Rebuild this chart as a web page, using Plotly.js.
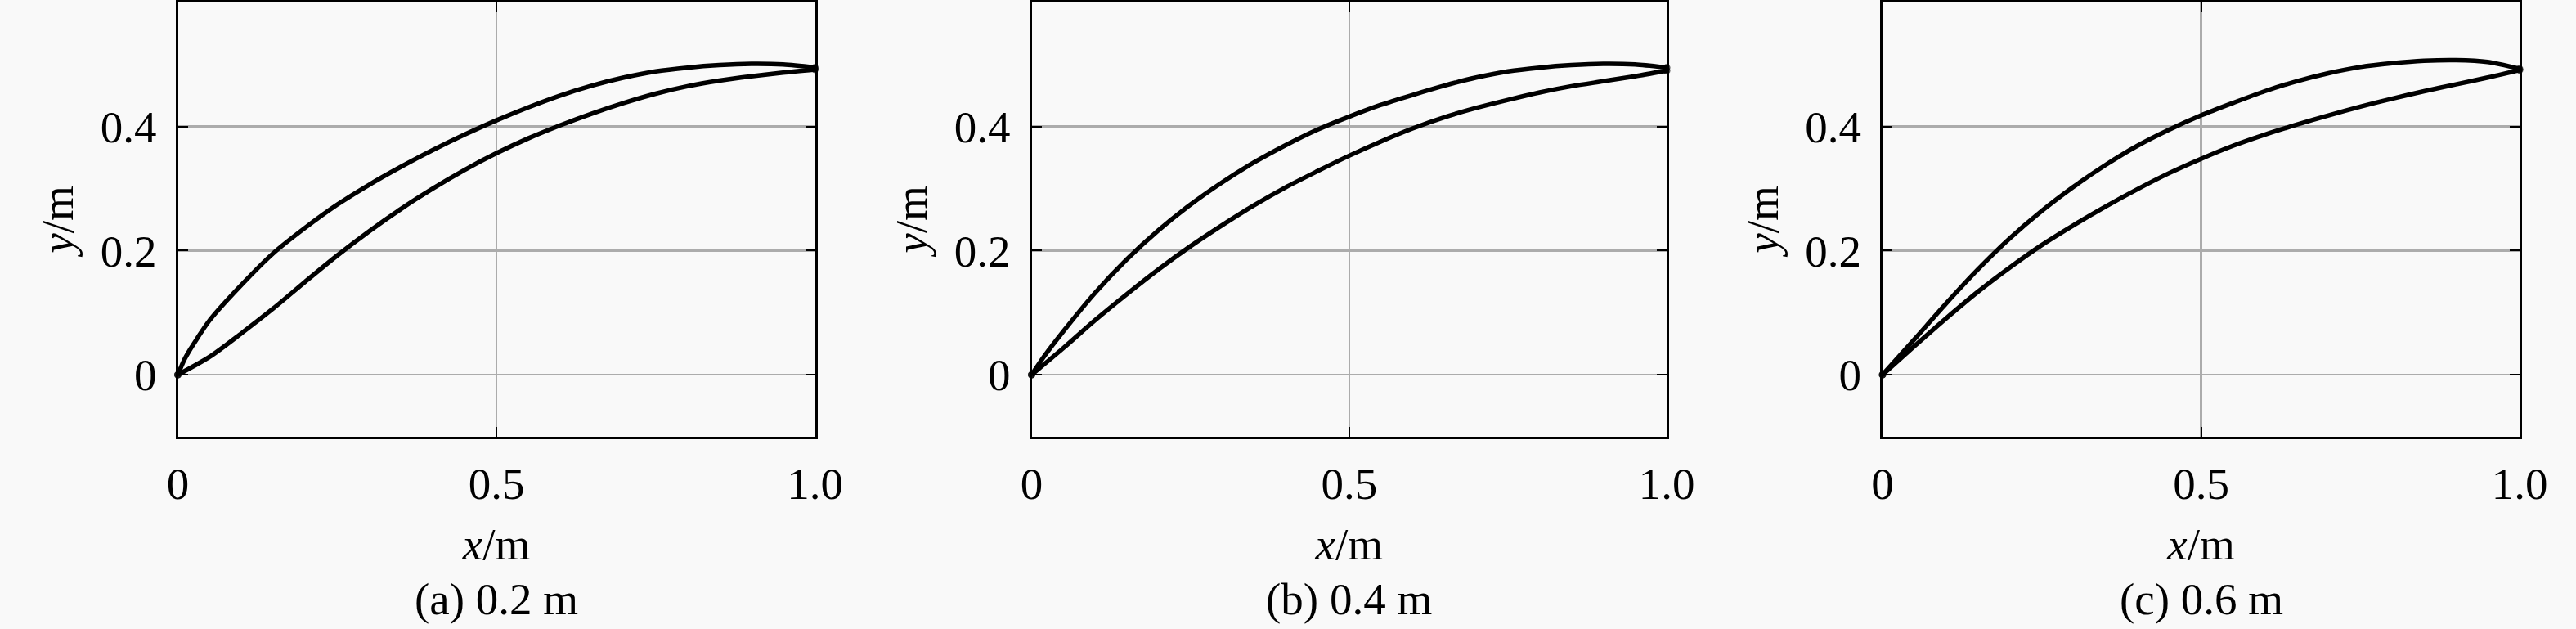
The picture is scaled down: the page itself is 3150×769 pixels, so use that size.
<!DOCTYPE html>
<html>
<head>
<meta charset="utf-8">
<script src="https://cdn.plot.ly/plotly-3.0.1.min.js"></script>
<style>
  html, body { margin: 0; padding: 0; background: #f9f9f9; }
  #chart { width: 3150px; height: 769px; }
</style>
</head>
<body>
<div id="chart"></div>
<script>
// ---- data (x in m, y in m) ----
const captions = ['(a) 0.2 m', '(b) 0.4 m', '(c) 0.6 m'];
const xTickVals = [0, 0.5, 1.0];
const xTickText = ['0', '0.5', '1.0'];
const yTickVals = [0, 0.2, 0.4];
const yTickText = ['0', '0.2', '0.4'];

// panel (a) 0.2 m
const aUpperX = [0, 0.01, 0.02, 0.03, 0.05, 0.1, 0.15, 0.2, 0.25, 0.3, 0.35, 0.4, 0.45, 0.5, 0.55, 0.6, 0.65, 0.7, 0.75, 0.8, 0.85, 0.9, 0.95, 1.0];
const aUpperY = [0, 0.024, 0.042, 0.058, 0.088, 0.145, 0.196, 0.237, 0.274, 0.306, 0.335, 0.362, 0.387, 0.41, 0.431, 0.45, 0.466, 0.479, 0.489, 0.495, 0.499, 0.501, 0.5, 0.495];
const aLowerX = [0, 0.05, 0.1, 0.15, 0.2, 0.25, 0.3, 0.35, 0.4, 0.45, 0.5, 0.55, 0.6, 0.65, 0.7, 0.75, 0.8, 0.85, 0.9, 0.95, 1.0];
const aLowerY = [0, 0.029, 0.067, 0.107, 0.15, 0.192, 0.231, 0.267, 0.3, 0.33, 0.357, 0.381, 0.402, 0.421, 0.438, 0.453, 0.465, 0.474, 0.481, 0.487, 0.492];

// panel (b) 0.4 m
const bUpperX = [0, 0.02, 0.05, 0.1, 0.15, 0.2, 0.25, 0.3, 0.35, 0.4, 0.45, 0.5, 0.55, 0.6, 0.65, 0.7, 0.75, 0.8, 0.85, 0.9, 0.95, 1.0];
const bUpperY = [0, 0.03, 0.07, 0.132, 0.186, 0.233, 0.274, 0.31, 0.342, 0.37, 0.395, 0.416, 0.435, 0.451, 0.466, 0.479, 0.489, 0.495, 0.499, 0.501, 0.5, 0.495];
const bLowerX = [0, 0.05, 0.1, 0.15, 0.2, 0.25, 0.3, 0.35, 0.4, 0.45, 0.5, 0.55, 0.6, 0.65, 0.7, 0.75, 0.8, 0.85, 0.9, 0.95, 1.0];
const bLowerY = [0, 0.043, 0.088, 0.13, 0.17, 0.207, 0.241, 0.273, 0.302, 0.328, 0.353, 0.376, 0.397, 0.415, 0.43, 0.443, 0.455, 0.465, 0.473, 0.481, 0.49];

// panel (c) 0.6 m
const cUpperX = [0, 0.05, 0.1, 0.15, 0.2, 0.25, 0.3, 0.35, 0.4, 0.45, 0.5, 0.55, 0.6, 0.65, 0.7, 0.75, 0.8, 0.85, 0.9, 0.95, 1.0];
const cUpperY = [0, 0.057, 0.115, 0.17, 0.22, 0.264, 0.303, 0.338, 0.369, 0.395, 0.418, 0.438, 0.457, 0.473, 0.486, 0.496, 0.502, 0.506, 0.507, 0.504, 0.493];
const cLowerX = [0, 0.05, 0.1, 0.15, 0.2, 0.25, 0.3, 0.35, 0.4, 0.45, 0.5, 0.55, 0.6, 0.65, 0.7, 0.75, 0.8, 0.85, 0.9, 0.95, 1.0];
const cLowerY = [0, 0.046, 0.091, 0.134, 0.173, 0.209, 0.241, 0.271, 0.299, 0.325, 0.348, 0.369, 0.387, 0.403, 0.418, 0.432, 0.445, 0.457, 0.468, 0.479, 0.491];

// ---- styling ----
const FONT = 'Liberation Serif, Times New Roman, serif';
const FS = 55;
const W = 3150, H = 769;
const plotTop = 3, plotBottom = 534;
const xDomainsPx = [[217.5, 996.5], [1261.5, 2038], [2302, 3081]];
const yDomain = [1 - plotBottom / H, 1 - plotTop / H];

const panels = [
  [aUpperX, aUpperY, aLowerX, aLowerY],
  [bUpperX, bUpperY, bLowerX, bLowerY],
  [cUpperX, cUpperY, cLowerX, cLowerY]
];

function endSizes(n) {
  return Array.from({length: n}, (_, k) => (k === 0 || k === n - 1) ? 9 : 0);
}

const traces = [];
const layout = {
  width: W, height: H,
  margin: {l: 0, r: 0, t: 0, b: 0},
  paper_bgcolor: '#f9f9f9',
  plot_bgcolor: '#f9f9f9',
  showlegend: false,
  font: {family: FONT, size: FS, color: '#000'},
  annotations: []
};

panels.forEach((p, i) => {
  const n = i === 0 ? '' : String(i + 1);
  const xa = 'x' + n, ya = 'y' + n;
  [[p[0], p[1]], [p[2], p[3]]].forEach(([xs, ys]) => {
    traces.push({
      x: xs, y: ys, xaxis: xa, yaxis: ya,
      type: 'scatter', mode: 'lines+markers',
      line: {color: '#000', width: 5.5, shape: 'spline', smoothing: 0.8},
      marker: {color: '#000', size: endSizes(xs.length), line: {width: 0}},
      cliponaxis: false,
      hoverinfo: 'skip'
    });
  });
  const dom = [xDomainsPx[i][0] / W, xDomainsPx[i][1] / W];
  const common = {
    showline: true, linecolor: '#000', linewidth: 3, mirror: 'ticks',
    ticks: 'inside', ticklen: 12, tickwidth: 2, tickcolor: '#000',
    showgrid: true, gridcolor: '#acacac', gridwidth: 2.5,
    zeroline: false, fixedrange: true,
    tickfont: {family: FONT, size: FS, color: '#000'}
  };
  layout['xaxis' + n] = Object.assign({}, common, {
    domain: dom, range: [0, 1], anchor: ya,
    tickmode: 'array', tickvals: xTickVals, ticktext: xTickText,
    ticklabelstandoff: 7,
    title: {text: '<i>x</i>/m', font: {family: FONT, size: FS}, standoff: 25}
  });
  layout['yaxis' + n] = Object.assign({}, common, {
    domain: yDomain, range: [-0.1, 0.6], anchor: xa,
    tickmode: 'array', tickvals: yTickVals, ticktext: yTickText,
    ticklabelstandoff: 12,
    title: {text: '<i>y</i>/m', font: {family: FONT, size: FS}, standoff: 16}
  });
  layout.annotations.push({
    text: captions[i], xref: 'paper', yref: 'paper',
    x: (dom[0] + dom[1]) / 2, y: 4 / H, xanchor: 'center', yanchor: 'bottom',
    showarrow: false, font: {family: FONT, size: FS, color: '#000'}
  });
});

Plotly.newPlot('chart', traces, layout, {staticPlot: true, displayModeBar: false});
</script>
</body>
</html>
